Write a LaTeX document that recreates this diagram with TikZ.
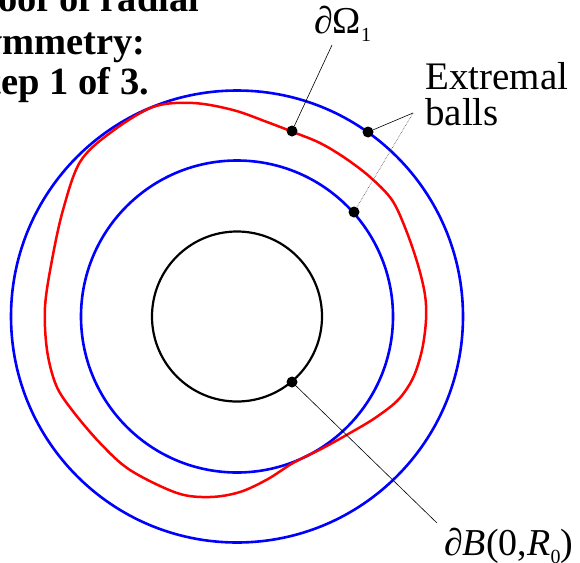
\documentclass[tikz,border=0pt]{standalone}
\usepackage{fontspec}
\setmainfont{Liberation Serif}
\newcommand{\lowidx}[1]{\raisebox{-0.22em}{\fontsize{20}{20}\selectfont #1}}
\begin{document}
\begin{tikzpicture}[
    x=1pt,
    y=-1pt,
    ball/.style={
        draw=blue,
        line width=2.6pt
    },
    core/.style={
        draw=black,
        line width=2.2pt
    },
    omega/.style={
        draw=red,
        line width=2.5pt
    },
    contact/.style={
        circle,
        fill=black,
        inner sep=0pt,
        minimum size=11pt
    },
    leader/.style={
        draw=black,
        line width=0.6pt
    },
    mathtag/.style={
        inner sep=0pt,
        font=\fontsize{38}{38}\selectfont
    },
    heading/.style={
        anchor=base west,
        inner sep=0pt,
        font=\fontsize{38.5}{41}\selectfont\bfseries
    }
]
\useasboundingbox (0,0) rectangle (580,562);
\clip (0,0) rectangle (580,562);

% Title (cut by the frame)
\node[heading] (t1) at (-42, 12) {Proof of radial};
\node[heading] (t2) at (-32, 54) {symmetry:};
\node[heading] (t3) at (-33, 94) {Step 1 of 3.};

% Balls around the origin
\draw[ball] (237,316.5) circle[radius=226pt];
\draw[ball] (237,316.5) circle[radius=156pt];
\draw[core] (237,316.5) circle[radius=85pt];

% Boundary of Omega_1
\draw[omega] plot[smooth cycle, tension=0.55] coordinates {
    (193,103) (233,110) (267,122) (293,132) (320,143) (345,158)
    (370,177) (392,200) (406,230) (418,265) (425,295) (426,320)
    (422,350) (413,378) (398,400) (375,418) (350,433) (323,448)
    (293,463) (268,479) (240,492) (210,497) (177,493) (130,470)
    (100,443) (72,410) (56,385) (47,350) (45,307) (52,260)
    (63,210) (80,162) (110,133) (153,107)};

% Contact points
\node[contact] (dom) at (292,131) {};
\node[contact] (dout) at (368,132) {};
\node[contact] (din) at (354,212) {};
\node[contact] (dcore) at (292,382) {};

% Labels
\node[mathtag, anchor=base west] (lom) at (314,33)
    {{\itshape ∂}Ω\lowidx{1}};
\node[anchor=north west, inner sep=0pt, align=left,
    font=\fontsize{39}{36}\selectfont] (lext) at (425,62.5)
    {Extremal\\balls};
\node[mathtag, anchor=base west] (lcore) at (444,555)
    {{\itshape ∂B}(0,{\itshape R}\lowidx{0})};

% Leader lines
\coordinate (kom) at (332,45);
\coordinate (kext) at (413,113);
\coordinate (kcore) at (437,523);
\draw[leader] (kom) -- (dom);
\draw[leader] (kext) -- (dout);
\draw[leader, densely dotted, black!70] (kext) -- (din);
\draw[leader] (dcore) -- (kcore);

\end{tikzpicture}
\end{document}
